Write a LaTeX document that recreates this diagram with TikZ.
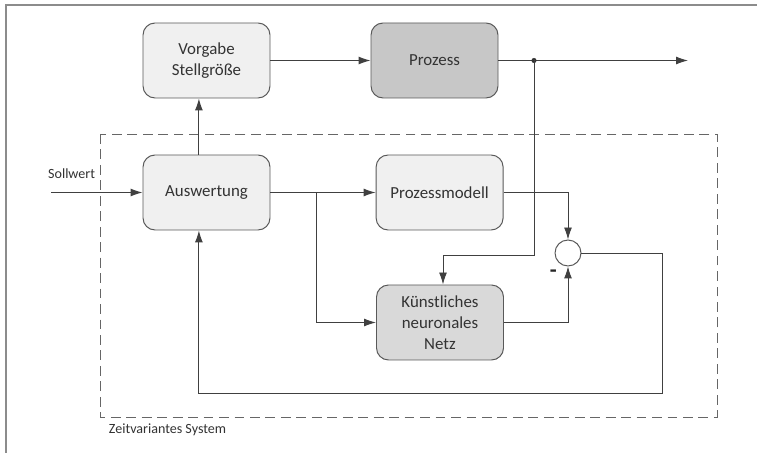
\documentclass[tikz,border=0pt]{standalone}
\usepackage{fontspec}
\setmainfont{Carlito}
\usepackage{xcolor}
\usetikzlibrary{arrows.meta}

\begin{document}
\begin{tikzpicture}[
			 bloque/.style={rectangle, rounded corners=0.3cm, draw=black!65, fill=black!6, line width=0.7pt, minimum width=3.175cm, minimum height=1.875cm, align=center, text=black!80, font=\fontsize{12}{14.8}\selectfont},
			 sumador/.style={circle, draw=black!65, fill=white, line width=0.7pt, minimum size=0.65cm, inner sep=0pt},
			 flecha/.style={draw=black!75, line width=0.7pt, -{Latex[length=3mm,width=2mm]}},
			 linea/.style={draw=black!75, line width=0.7pt},
			 texto/.style={text=black!80, font=\fontsize{10}{12}\selectfont}
  		]
		\useasboundingbox (0,0) rectangle (18.925,-11.325);

	%Marco
		\draw[black!45, line width=0.9pt] (0.15,-11.325) -- (0.15,-0.125) -- (18.925,-0.125);

	%Sistema zeitvariant
		\draw[black!60, line width=0.7pt, dash pattern=on 7pt off 4pt] (2.5,-3.35) rectangle (17.925,-10.425);
		\node[texto, anchor=west] (zvs) at (2.6,-10.75) {Zeitvariantes System};

	%Creamos los bloques
		\node[bloque] (vorg) at (5.1625,-1.5125) {Vorgabe\\Stellgröße};
		\node[bloque, fill=black!22] (proz) at (10.8625,-1.5125) {Prozess};
		\node[bloque] (ausw) at (5.1625,-4.8125) {Auswertung};
		\node[bloque] (mod) at (10.99,-4.8125) {Prozessmodell};
		\node[bloque, fill=black!15] (knn) at (11.0,-8.0625) {Künstliches\\neuronales\\Netz};
		\node[sumador] (sum) at (14.2,-6.325) {};
		\node[texto] (sollwert) at (1.79,-4.33) {Sollwert};
		\node[font=\fontsize{16}{16}\selectfont\bfseries, text=black!85] (menos) at (13.83,-6.84) {-};

	%Puntos auxiliares
		\coordinate (sw) at (1.275,-4.8125);
		\coordinate (p1) at (13.35,-1.5125);
		\coordinate (out) at (17.2,-1.5125);
		\coordinate (k1) at (13.35,-6.375);
		\coordinate (a1) at (7.9,-4.8125);
		\coordinate (r1) at (16.55,-9.825);

	%Conexiones
		\draw[flecha] (sw) -- (ausw);
		\draw[flecha] ([xshift=-0.19cm]ausw.north) -- ([xshift=-0.19cm]vorg.south);
		\draw[flecha] (vorg) -- (proz);
		\draw[linea] (proz) -- (p1);
		\draw[flecha] (p1) -- (out);
		\fill[black!80] (p1) circle (1.8pt);
		\draw[flecha] (p1) -- (k1) -| ([xshift=0.075cm]knn.north);
		\draw[flecha] (ausw) -- (mod);
		\draw[flecha] (a1) |- (knn);
		\draw[flecha] (mod) -| (sum);
		\draw[flecha] (knn) -| (sum);
		\draw[flecha] (sum) -| (r1) -| ([xshift=-0.19cm]ausw.south);

	\end{tikzpicture}
\end{document}
